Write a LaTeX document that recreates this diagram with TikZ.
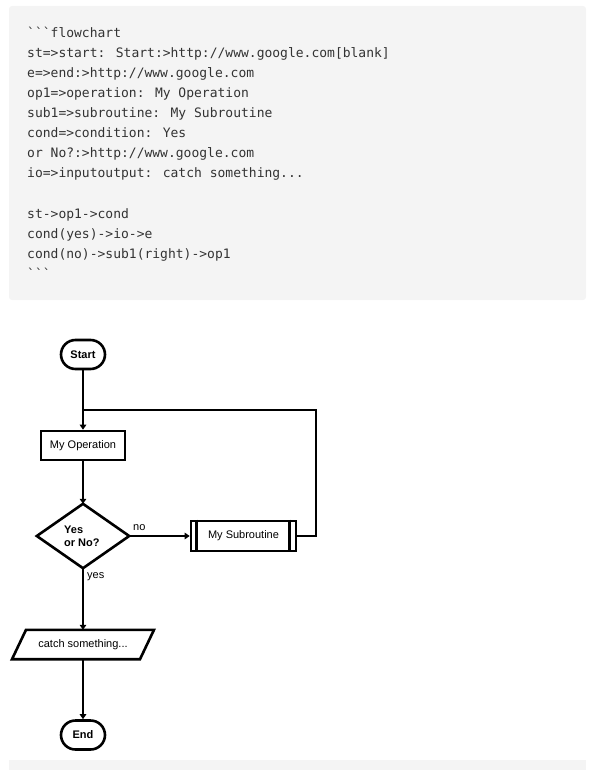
\documentclass[tikz,border=0pt]{standalone}
\usepackage{fontspec}
\setmainfont{Liberation Sans}
\newfontfamily\codefont{DejaVu Sans Mono}
\usetikzlibrary{arrows.meta}
\definecolor{codebg}{HTML}{F4F4F4}
\definecolor{codefg}{HTML}{333333}
\tikzset{
  codeline/.style={anchor=base west, inner sep=0pt, text=codefg, font=\codefont\fontsize{13}{15}\selectfont},
  fc/.style={line width=2.6pt, draw=black},
  lbl/.style={font=\fontsize{11}{13}\selectfont, inner sep=0pt},
  blbl/.style={font=\bfseries\fontsize{11}{13}\selectfont, inner sep=0pt},
  terminal/.style={fc, rounded corners=14.5pt, minimum width=44pt, minimum height=29pt, inner sep=0pt, font=\bfseries\fontsize{11}{13}\selectfont},
  opbox/.style={fc, minimum width=84pt, minimum height=29pt, inner sep=0pt, font=\fontsize{11}{13}\selectfont},
  ghost/.style={inner sep=0pt, font=\fontsize{11}{13}\selectfont},
  conn/.style={line width=2.6pt, -{Triangle[length=5pt,width=6.5pt]}},
  plain/.style={line width=2.6pt}
}
\begin{document}
\begin{tikzpicture}[x=1pt,y=-1pt]
\useasboundingbox (0,0) rectangle (594,770);
\fill[codebg, rounded corners=3pt] (9,6) rectangle (586,300);
\fill[codebg] (9,760) rectangle (586,770);
% code text
\node[codeline] (c1) at (27,38) {\symbol{96}\symbol{96}\symbol{96}flowchart};
\node[codeline] (c2) at (27,58) {st=>start: Start:>http://www.google.com[blank]};
\node[codeline] (c3) at (27,78) {e=>end:>http://www.google.com};
\node[codeline] (c4) at (27,98) {op1=>operation: My Operation};
\node[codeline] (c5) at (27,118) {sub1=>subroutine: My Subroutine};
\node[codeline] (c6) at (27,138) {cond=>condition: Yes};
\node[codeline] (c7) at (27,158) {or No?:>http://www.google.com};
\node[codeline] (c8) at (27,178) {io=>inputoutput: catch something...};
\node[codeline] (c9) at (27,218) {st->op1->cond};
\node[codeline] (c10) at (27,238) {cond(yes)->io->e};
\node[codeline] (c11) at (27,258) {cond(no)->sub1(right)->op1};
\node[codeline] (c12) at (27,278) {\symbol{96}\symbol{96}\symbol{96}};
% flowchart
\node[terminal] (st) at (83,354.5) {Start};
\node[opbox] (op1) at (83,445.5) {My Operation};
\node[ghost, minimum width=92pt, minimum height=64pt] (cond) at (83,536) {};
\draw[fc, line join=miter] (cond.north) -- (cond.east) -- (cond.south) -- (cond.west) -- cycle;
\node[blbl, align=left, anchor=west] (condtxt) at (64,536.5) {Yes\\or No?};
\node[opbox, minimum width=105pt, minimum height=30pt] (sub1) at (243.5,536) {My Subroutine};
\draw[fc] ([xshift=7pt]sub1.north west) -- ([xshift=7pt]sub1.south west);
\draw[fc] ([xshift=-8pt]sub1.north east) -- ([xshift=-8pt]sub1.south east);
\node[ghost, minimum width=128pt, minimum height=29pt] (io) at (83,644.5) {catch something...};
\draw[fc, line join=miter] ([xshift=-57pt]io.north) -- ([xshift=71pt]io.north) -- ([xshift=57pt]io.south) -- ([xshift=-71pt]io.south) -- cycle;
\node[terminal] (e) at (83,735) {End};
% connectors
\draw[conn] (st) -- (op1);
\draw[conn] (op1) -- (cond.north);
\draw[conn] (cond.east) -- (sub1.west);
\node[lbl, anchor=west] (nolbl) at (133,528) {no};
\draw[conn] (cond.south) -- (io.north);
\node[lbl, anchor=west] (yeslbl) at (87,577) {yes};
\draw[conn] (io.south) -- (e.north);
\coordinate (loopr) at (316,410);
\coordinate (loopl) at (83,410);
\draw[plain, line join=miter] (sub1.east) -| (loopr) -- (loopl);
\end{tikzpicture}
\end{document}
